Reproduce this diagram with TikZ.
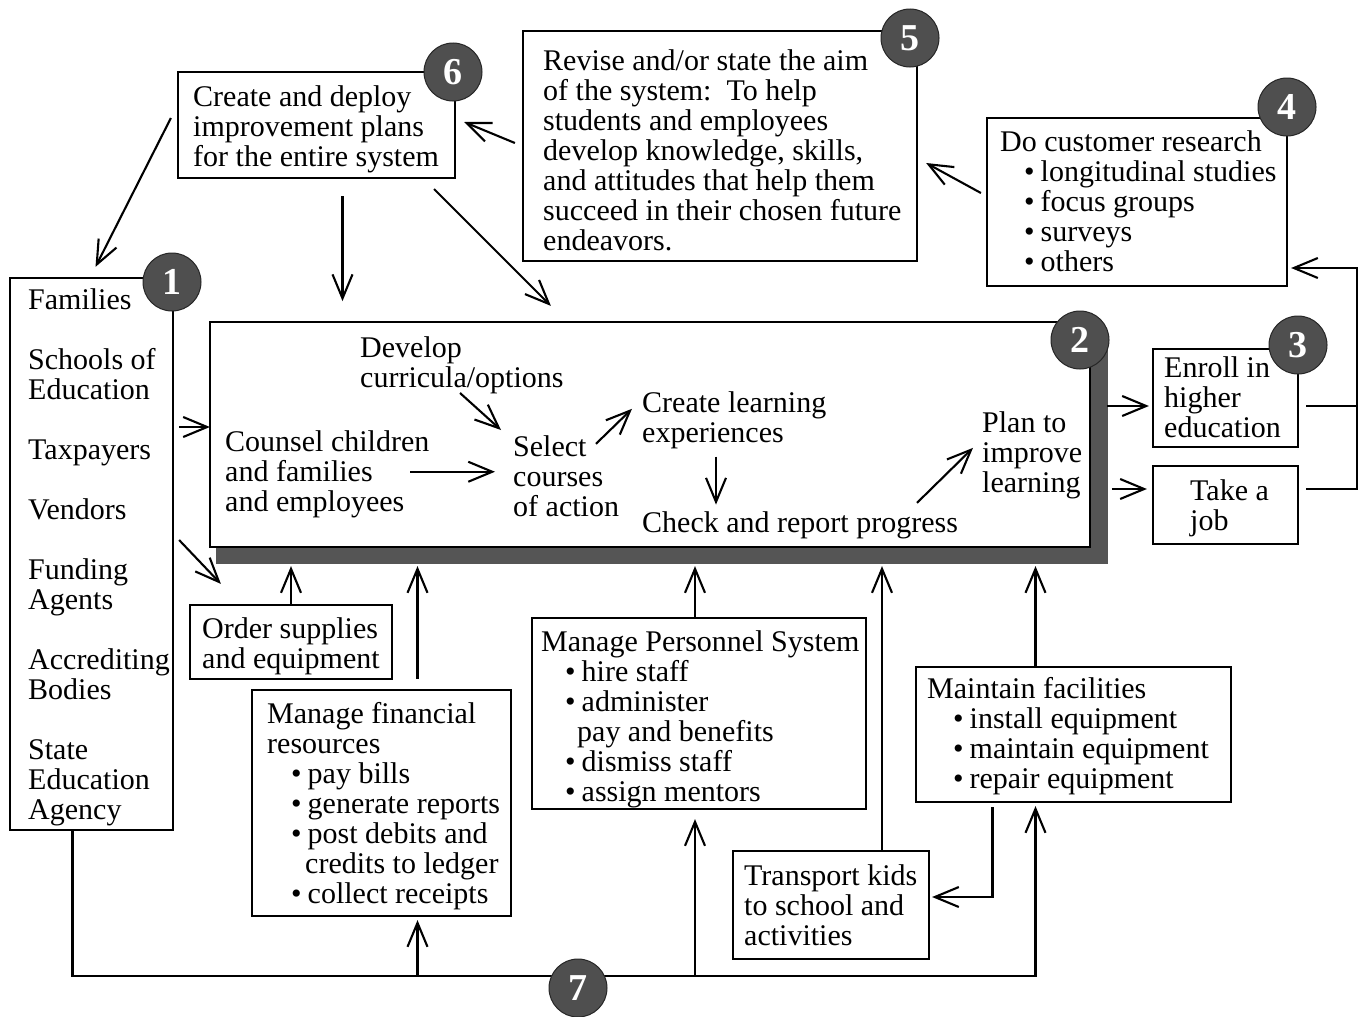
\documentclass[tikz,border=0pt]{standalone}
\usepackage{fontspec}
\setmainfont{Liberation Serif}
\usetikzlibrary{arrows.meta,fit,calc}
\definecolor{badgec}{HTML}{4F4F4F}
\definecolor{shadowc}{HTML}{555555}
\newcommand\bul{\textbullet\hspace{6pt}}
\begin{document}
\begin{tikzpicture}[x=1pt,y=-1pt,
  box/.style={draw, line width=2.2pt, inner sep=0pt},
  txt/.style={anchor=north west, inner sep=0pt, align=left, font=\fontsize{30}{30}\selectfont},
  badge/.style={circle, fill=badgec, draw=black!85, line width=1pt, minimum size=58pt, inner sep=0pt, text=white, font=\fontsize{38}{38}\selectfont\bfseries},
  arr/.style={line width=2.1pt, -{Straight Barb[length=24pt,width=20pt]}},
  ln/.style={line width=2.1pt}]
\useasboundingbox (0,0) rectangle (1365,1017);
% ---- boxes ----
\node[box, fit={(178,72) (455,178)}] (b6) {};
\node[box, fit={(523,31) (917,261)}] (b5) {};
\node[box, fit={(987,118) (1287,286)}] (b4) {};
\node[box, fit={(10,278) (173,830)}] (b1) {};
\fill[shadowc] (216,330) rectangle (1108,564);
\node[box, fill=white, fit={(210,322) (1090,547)}] (b2) {};
\node[box, fit={(1153,349) (1298,447)}] (bEn) {};
\node[box, fit={(1153,466) (1298,544)}] (bJob) {};
\node[box, fit={(190,605) (392,679)}] (bOrd) {};
\node[box, fit={(252,690) (511,916)}] (bFin) {};
\node[box, fit={(532,618) (866,809)}] (bPer) {};
\node[box, fit={(916,667) (1231,802)}] (bMa) {};
\node[box, fit={(733,851) (929,959)}] (bTr) {};
% ---- texts ----
\node[txt] (t6) at (193,85) {Create and deploy\\improvement plans\\for the entire system};
\node[txt] (t5) at (543,49) {Revise and/or state the aim\\of the system:\ \ To help\\students and employees\\develop knowledge, skills,\\and attitudes that help them\\succeed in their chosen future\\endeavors.};
\node[txt] (t4) at (1000,130) {Do customer research\\\hspace*{24pt}\bul longitudinal studies\\\hspace*{24pt}\bul focus groups\\\hspace*{24pt}\bul surveys\\\hspace*{24pt}\bul others};
\node[txt] (t1) at (28,288) {Families\\[30pt]Schools of\\Education\\[30pt]Taxpayers\\[30pt]Vendors\\[30pt]Funding\\Agents\\[30pt]Accrediting\\Bodies\\[30pt]State\\Education\\Agency};
\node[txt] (tDev) at (360,336) {Develop\\curricula/options};
\node[txt] (tCoun) at (225,430) {Counsel children\\and families\\and employees};
\node[txt] (tSel) at (513,435) {Select\\courses\\of action};
\node[txt] (tCre) at (642,391) {Create learning\\experiences};
\node[txt] (tChk) at (642,511) {Check and report progress};
\node[txt] (tPlan) at (982,411) {Plan to\\improve\\learning};
\node[txt] (tEn) at (1164,356) {Enroll in\\higher\\education};
\node[txt] (tJob) at (1190,479) {Take a\\job};
\node[txt] (tOrd) at (202,617) {Order supplies\\and equipment};
\node[txt] (tFin) at (267,702) {Manage financial\\resources\\\hspace*{24pt}\bul pay bills\\\hspace*{24pt}\bul generate reports\\\hspace*{24pt}\bul post debits and\\\hspace*{38pt}credits to ledger\\\hspace*{24pt}\bul collect receipts};
\node[txt] (tPer) at (541,630) {Manage Personnel System\\\hspace*{24pt}\bul hire staff\\\hspace*{24pt}\bul administer\\\hspace*{36pt}pay and benefits\\\hspace*{24pt}\bul dismiss staff\\\hspace*{24pt}\bul assign mentors};
\node[txt] (tMa) at (927,677) {Maintain facilities\\\hspace*{26pt}\bul install equipment\\\hspace*{26pt}\bul maintain equipment\\\hspace*{26pt}\bul repair equipment};
\node[txt] (tTr) at (744,864) {Transport kids\\to school and\\activities};
% ---- badges ----
\node[badge] (n6) at (453,72) {6};
\node[badge] (n5) at (910,38) {5};
\node[badge] (n4) at (1287,107) {4};
\node[badge] (n1) at (172,282) {1};
\node[badge] (n2) at (1080,340) {2};
\node[badge] (n3) at (1298,345) {3};
% ---- top connectors ----
\draw[arr] ([shift={(-7,-3)}]b5.west) -- ([shift={(8,-3)}]b6.east);
\draw[arr] ([shift={(-5,-9)}]b4.west) -- ([shift={(8,17)}]b5.east);
\draw[arr] ([shift={(-6,-7)}]b6.west) -- ([shift={(4,-10)}]b1.north);
\draw[arr] ([shift={(26,17)}]b6.south) -- ++(0,105);
\draw[arr] ([shift={(-22,10)}]b6.south east) -- ([shift={(342,-15)}]b2.north west);
% ---- left connectors ----
\draw[arr] ([shift={(5,-127)}]b1.east) -- ([shift={(1,-127)}]b1.east -| b2.west);
\draw[arr] ([shift={(5,-14)}]b1.east) -- ([shift={(32,-20)}]bOrd.north west);
% ---- into box 2 from below ----
\draw[arr] (bOrd.north) -- ($(bOrd.north |- b2.south)+(0,18)$);
\draw[arr] ($(bFin.north)+(36,-10)$) -- ($(bFin.north |- b2.south)+(36,18)$);
\draw[arr] ($(bPer.north)+(-4,0)$) -- ($(bPer.north |- b2.south)+(-4,18)$);
\draw[arr] ($(bTr.north)+(51,0)$) -- ($(bTr.north |- b2.south)+(51,18)$);
\draw[arr] ($(bMa.north)+(-38,0)$) -- ($(bMa.north |- b2.south)+(-38,18)$);
\draw[arr] ($(bMa.south)+(-81,4)$) |- ($(bTr.east)+(2,-8)$);
% ---- inner flow ----
\draw[arr] ($(tSel.west)+(-103,-4)$) -- ($(tSel.west)+(-18,-4)$);
\draw[arr] ($(tSel.north west)+(-53,-42)$) -- ($(tSel.north west)+(-12,-5)$);
\draw[arr] ($(tCre.west)+(-46,24)$) -- ($(tCre.west)+(-10,-11)$);
\draw[arr] ($(tCre.south west)+(74,8)$) -- ($(tCre.south west)+(74,56)$);
\draw[arr] ($(tPlan.west)+(-65,48)$) -- ($(tPlan.west)+(-9,-7)$);
% ---- outputs ----
\draw[arr] ($(bEn.west)+(-45,8)$) -- ($(bEn.west)+(-3,8)$);
\draw[arr] ($(bJob.west)+(-40,-16)$) -- ($(bJob.west)+(-5,-16)$);
\draw[ln] ($(bEn.east)+(7,8)$) -- ($(bEn.east)+(58,8)$);
\draw[arr] ($(bJob.east)+(7,-16)$) -| ($(b4.east)+(69,66)$) -- ($(b4.east)+(3,66)$);
% ---- bottom bus ----
\draw[arr] ($(b1.south)+(-19,0)$) |- ($(bMa.south)+(-38,173)$) -- ($(bMa.south)+(-38,3)$);
\draw[arr] ($(bFin.south)+(36,59)$) -- ($(bFin.south)+(36,3)$);
\draw[arr] ($(bPer.south)+(-4,166)$) -- ($(bPer.south)+(-4,9)$);
\node[badge] (n7) at (578,988) {7};
\end{tikzpicture}
\end{document}
